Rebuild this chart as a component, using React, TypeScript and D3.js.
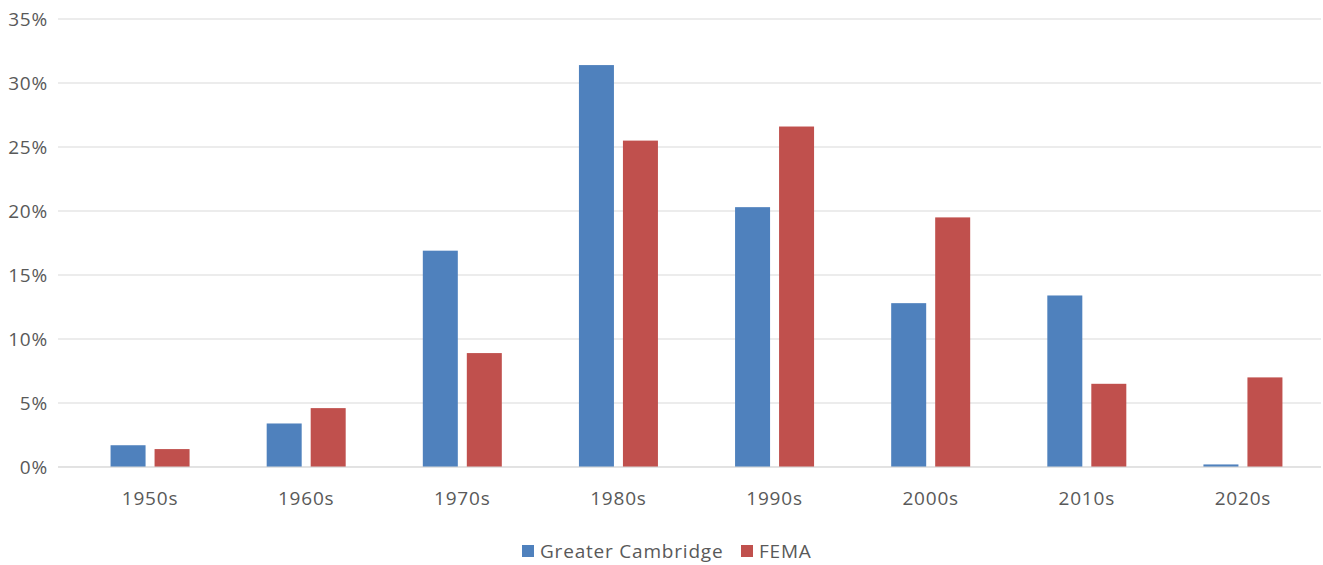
import * as d3 from 'd3';
import React from 'react';

const categories = ['1950s', '1960s', '1970s', '1980s', '1990s', '2000s', '2010s', '2020s'];
const cambridge = [1.7, 3.4, 16.9, 31.4, 20.3, 12.8, 13.4, 0.2];
const fema = [1.4, 4.6, 8.9, 25.5, 26.6, 19.5, 6.5, 7.0];
const yTicks = [0, 5, 10, 15, 20, 25, 30, 35];

const width = 1323;
const height = 565;
const marginLeft = 72;
const marginRight = 2;
const marginTop = 19;
const plotBottom = 467;
const font = '"Open Sans", sans-serif';
const fs = 19;
const ls = 0.8;

const App: React.FC = () => {
    const x = d3.scaleBand<string>().domain(categories).range([marginLeft, width - marginRight]);
    const y = d3.scaleLinear().domain([0, 35]).range([plotBottom, marginTop]);
    const barW = 35;
    const gap = 9;

    return (
        <svg width={width} height={height} style={{ position: 'absolute', left: 0, top: 0 }}>
            <rect width={width} height={height} fill="#fff" />
            {yTicks.map((t) => (
                <g key={t}>
                    <line x1={58} x2={width - marginRight} y1={y(t)} y2={y(t)} stroke="#d9d9d9" strokeWidth={1} />
                    <text x={48} y={y(t)} dy="0.35em" textAnchor="end" fontFamily={font} fontSize={fs} letterSpacing={ls} fill="#595959">
                        {t}%
                    </text>
                </g>
            ))}
            {categories.map((c, i) => {
                const cx = (x(c) ?? 0) + x.bandwidth() / 2;
                return (
                    <g key={c}>
                        <rect x={cx - gap / 2 - barW} y={y(cambridge[i])} width={barW} height={plotBottom - y(cambridge[i])} fill="#4F81BD" />
                        <rect x={cx + gap / 2} y={y(fema[i])} width={barW} height={plotBottom - y(fema[i])} fill="#C0504D" />
                        <text x={cx} y={505} textAnchor="middle" fontFamily={font} fontSize={fs} letterSpacing={ls} fill="#595959">
                            {c}
                        </text>
                    </g>
                );
            })}
            <line x1={58} x2={width - marginRight} y1={plotBottom} y2={plotBottom} stroke="#d9d9d9" />
            <rect x={522} y={545} width={12} height={12} fill="#4F81BD" />
            <text x={540} y={558} fontFamily={font} fontSize={fs} letterSpacing={ls} fill="#595959">Greater Cambridge</text>
            <rect x={741} y={545} width={12} height={12} fill="#C0504D" />
            <text x={759} y={558} fontFamily={font} fontSize={fs} letterSpacing={ls} fill="#595959">FEMA</text>
        </svg>
    );
};

export default App;
